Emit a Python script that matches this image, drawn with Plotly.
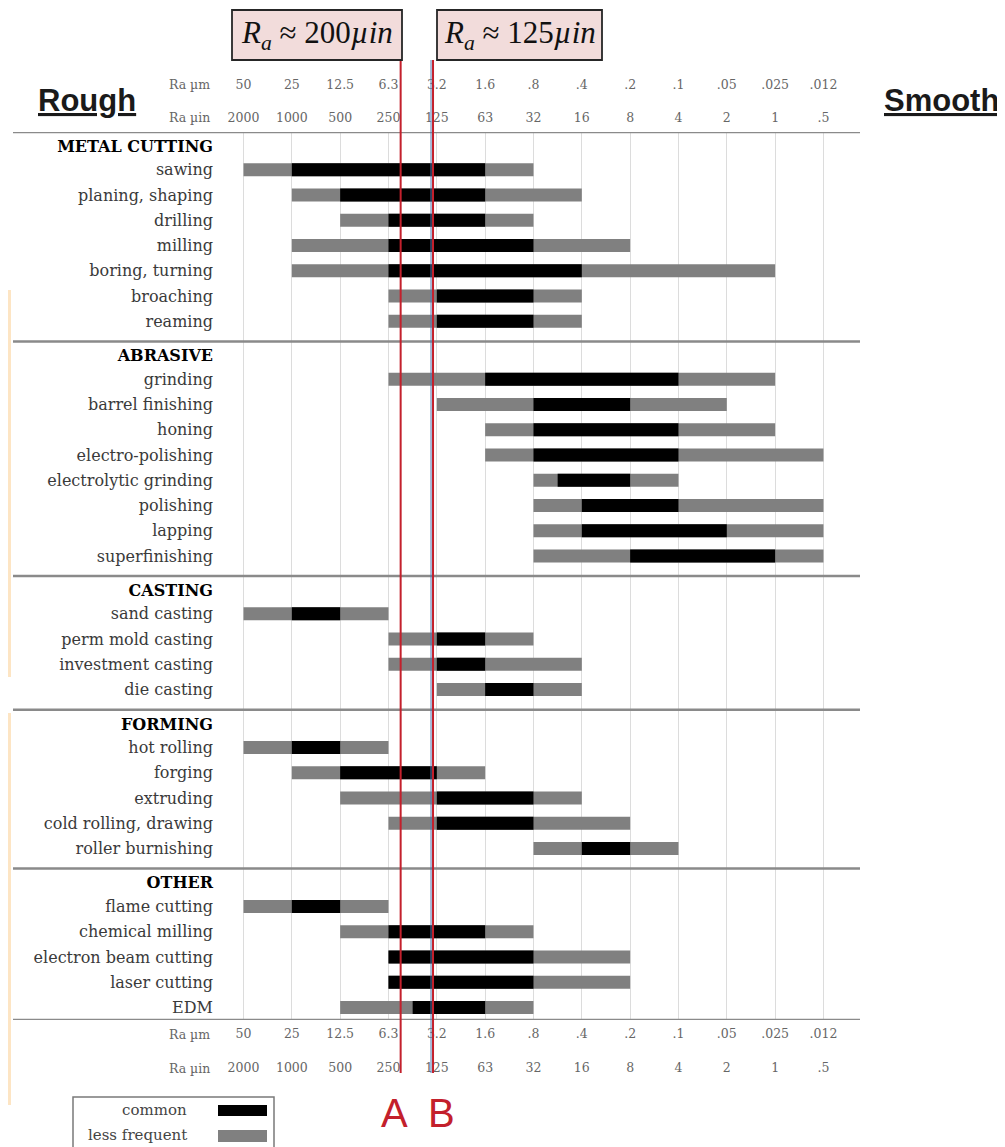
import numpy as np
import plotly.graph_objects as go

# ---------------- data ----------------
um_labels = ["50", "25", "12.5", "6.3", "3.2", "1.6", ".8", ".4", ".2", ".1", ".05", ".025", ".012"]
uin_labels = ["2000", "1000", "500", "250", "125", "63", "32", "16", "8", "4", "2", "1", ".5"]
UIN_MAX = 2000.0

groups = ["METAL CUTTING", "ABRASIVE", "CASTING", "FORMING", "OTHER"]
processes = [
    ["sawing", "planing, shaping", "drilling", "milling", "boring, turning", "broaching", "reaming"],
    ["grinding", "barrel finishing", "honing", "electro-polishing", "electrolytic grinding",
     "polishing", "lapping", "superfinishing"],
    ["sand casting", "perm mold casting", "investment casting", "die casting"],
    ["hot rolling", "forging", "extruding", "cold rolling, drawing", "roller burnishing"],
    ["flame cutting", "chemical milling", "electron beam cutting", "laser cutting", "EDM"],
]
# ranges in grade steps along the scale (0 = 50 um / 2000 uin ... 12 = .012 um / .5 uin)
less_start = [0, 1, 2, 1, 1, 3, 3,
              3, 4, 5, 5, 6, 6, 6, 6,
              0, 3, 3, 4,
              0, 1, 2, 3, 6,
              0, 2, 3, 3, 2]
less_end = [6, 7, 6, 8, 11, 7, 7,
            11, 10, 11, 12, 9, 12, 12, 12,
            3, 6, 7, 7,
            3, 5, 7, 8, 9,
            3, 6, 8, 8, 6]
common_start = [1, 2, 3, 3, 3, 4, 4,
                5, 6, 6, 6, 6.5, 7, 7, 8,
                1, 4, 4, 5,
                1, 2, 4, 4, 7,
                1, 3, 3, 3, 3.5]
common_end = [5, 5, 5, 6, 7, 6, 6,
              9, 8, 9, 9, 8, 9, 10, 11,
              2, 5, 5, 6,
              2, 4, 6, 6, 8,
              2, 5, 6, 6, 5]

# reference lines (uin), as drawn on the chart
line_A_uin = 210
line_B_uin = 132
box_A_text = "<i>R</i><sub><i>a</i></sub> ≈ 200<i>µin</i>"
box_B_text = "<i>R</i><sub><i>a</i></sub> ≈ 125<i>µin</i>"

# ---------------- layout geometry (screen pixels) ----------------
W, H = 1005, 1147
OFF = 8  # page body margin
PL, PR, PT, PB = 214, 860, 132, 1020
PITCH = 48.33
X0 = -(243.5 - PL) / PITCH
X1 = X0 + (PR - PL) / PITCH


def px_x(px):
    return (px - PL) / (PR - PL)


def px_y(py):
    return (PB - py) / (PB - PT)


# row positions (pixel offsets from the top of the plotting area)
HEAD, FIRST, ROW, TAIL = 14.2, 23.6, 25.25, 20.1
tickvals, ticktext, rules = [], [], []
item_y = []
cur = 0.0
for gi, (g, items) in enumerate(zip(groups, processes)):
    if gi > 0:
        rules.append(cur)
    hy = cur + HEAD
    tickvals.append(hy)
    ticktext.append(f"<b>{g}</b>")
    y = hy + FIRST
    for k, name in enumerate(items):
        tickvals.append(y)
        ticktext.append(f"<span style='color:#3a3a3a'>{name}</span>")
        item_y.append(y)
        if k < len(items) - 1:
            y += ROW
    cur = y + TAIL
YMAX = PB - PT

fig = go.Figure()
ls = np.array(less_start, float)
le = np.array(less_end, float)
cs = np.array(common_start, float)
ce = np.array(common_end, float)

fig.add_trace(go.Bar(y=item_y, x=le - ls, base=ls, orientation="h", width=13,
                     marker=dict(color="#808080", line_width=0), name="less frequent",
                     showlegend=False, hoverinfo="skip"))
fig.add_trace(go.Bar(y=item_y, x=ce - cs, base=cs, orientation="h", width=13,
                     marker=dict(color="#000000", line_width=0), name="common",
                     showlegend=False, hoverinfo="skip"))

# invisible traces to activate the extra tick-label axes
for ax in ["x2", "x3", "x4"]:
    fig.add_trace(go.Scatter(x=[0, 12], y=[0, 0], xaxis=ax, mode="markers",
                             marker=dict(opacity=0), showlegend=False, hoverinfo="skip"))

idx = list(range(len(um_labels)))
tickfont = dict(family="DejaVu Serif", size=12.5, color="#666666")
common_ax = dict(range=[X0, X1], autorange=False, tickmode="array", tickvals=idx,
                 ticks="", showline=False, zeroline=False, tickfont=tickfont, fixedrange=True)

fig.update_layout(
    width=W - OFF, height=H - OFF,
    margin=dict(l=PL - OFF, r=W - PR, t=PT - OFF, b=H - PB),
    paper_bgcolor="white", plot_bgcolor="white",
    barmode="overlay",
    xaxis=dict(**common_ax, ticktext=um_labels, side="bottom", showgrid=True,
               gridcolor="#dcdcdc", gridwidth=1, ticklabelstandoff=4),
    xaxis3=dict(**common_ax, ticktext=uin_labels, side="bottom", overlaying="x",
                anchor="y", showgrid=False, ticklabelstandoff=38),
    xaxis2=dict(**common_ax, ticktext=uin_labels, side="top", overlaying="x",
                anchor="y", showgrid=False, ticklabelstandoff=7),
    xaxis4=dict(**common_ax, ticktext=um_labels, side="top", overlaying="x",
                anchor="y", showgrid=False, ticklabelstandoff=40),
    yaxis=dict(range=[YMAX, 0], autorange=False, tickmode="array", tickvals=tickvals,
               ticktext=ticktext, ticks="", showgrid=False, zeroline=False, showline=False,
               tickfont=dict(family="DejaVu Serif", size=16, color="#000000"),
               ticklabelstandoff=0, fixedrange=True),
)

shapes = []
# peach strips at left edge
for y0, y1 in [(290, 677), (713, 1105)]:
    shapes.append(dict(type="rect", xref="paper", yref="paper", x0=px_x(OFF), x1=px_x(OFF + 3),
                       y0=px_y(y1), y1=px_y(y0), fillcolor="#fde5c4", line_width=0, layer="above"))
# horizontal rules
for ry in [0] + rules + [YMAX]:
    shapes.append(dict(type="line", xref="paper", yref="y", x0=px_x(13), x1=px_x(860),
                       y0=ry, y1=ry, line=dict(color="#8a8a8a", width=2.5)))
# reference lines
xa = np.log2(UIN_MAX / line_A_uin)
xb = np.log2(UIN_MAX / line_B_uin)
shapes.append(dict(type="line", xref="x", yref="paper", x0=xa, x1=xa,
                   y0=px_y(1073), y1=px_y(60), line=dict(color="#c3202c", width=2)))
shapes.append(dict(type="line", xref="x", xsizemode="pixel", xanchor=xb, x0=-2, x1=-2,
                   yref="paper", y0=px_y(1073), y1=px_y(60), line=dict(color="#4f79b0", width=1)))
shapes.append(dict(type="line", xref="x", yref="paper", x0=xb, x1=xb,
                   y0=px_y(1073), y1=px_y(60), line=dict(color="#c3202c", width=2)))
# title boxes
for x0, x1 in [(232, 402), (437, 602)]:
    shapes.append(dict(type="rect", xref="paper", yref="paper", x0=px_x(x0), x1=px_x(x1),
                       y0=px_y(60), y1=px_y(10), fillcolor="#f2dcdb",
                       line=dict(color="#262626", width=1.8)))
# legend box and swatches
shapes.append(dict(type="rect", xref="paper", yref="paper", x0=px_x(73), x1=px_x(274),
                   y0=px_y(1155), y1=px_y(1097), fillcolor="white",
                   line=dict(color="#7a7a7a", width=1.5)))
shapes.append(dict(type="rect", xref="paper", yref="paper", x0=px_x(218), x1=px_x(267),
                   y0=px_y(1116), y1=px_y(1105), fillcolor="#000000", line_width=0))
shapes.append(dict(type="rect", xref="paper", yref="paper", x0=px_x(218), x1=px_x(267),
                   y0=px_y(1142), y1=px_y(1130), fillcolor="#808080", line_width=0))
fig.update_layout(shapes=shapes)

ann = []
for txt, py in [("Ra µm", 84), ("Ra µin", 117), ("Ra µm", 1034), ("Ra µin", 1068)]:
    ann.append(dict(text=txt, xref="paper", yref="paper", x=px_x(212), y=px_y(py),
                    xanchor="right", yanchor="middle", showarrow=False,
                    font=dict(family="DejaVu Serif", size=12.5, color="#666666")))
ann.append(dict(text=box_A_text, xref="paper", yref="paper", x=px_x(317), y=px_y(35),
                xanchor="center", yanchor="middle", showarrow=False,
                font=dict(family="Liberation Serif", size=31, color="#111111")))
ann.append(dict(text=box_B_text, xref="paper", yref="paper", x=px_x(519.5), y=px_y(35),
                xanchor="center", yanchor="middle", showarrow=False,
                font=dict(family="Liberation Serif", size=31, color="#111111")))
ann.append(dict(text="<b><u>Rough</u></b>", xref="paper", yref="paper", x=px_x(36), y=px_y(101),
                xanchor="left", yanchor="middle", showarrow=False,
                font=dict(family="Liberation Sans", size=31, color="#1a1a1a")))
ann.append(dict(text="<b><u>Smooth</u></b>", xref="paper", yref="paper", x=px_x(1001), y=px_y(101),
                xanchor="right", yanchor="middle", showarrow=False,
                font=dict(family="Liberation Sans", size=31, color="#1a1a1a")))
for t, px in [("A", 394), ("B", 441)]:
    ann.append(dict(text=t, xref="paper", yref="paper", x=px_x(px), y=px_y(1113),
                    xanchor="center", yanchor="middle", showarrow=False,
                    font=dict(family="Liberation Sans", size=40, color="#c3202c")))
for t, py in [("common", 1110), ("less frequent", 1135)]:
    ann.append(dict(text=t, xref="paper", yref="paper", x=px_x(189), y=px_y(py),
                    xanchor="right", yanchor="middle", showarrow=False,
                    font=dict(family="DejaVu Serif", size=15, color="#444444")))
fig.update_layout(annotations=ann)

fig.write_html("out.html")
